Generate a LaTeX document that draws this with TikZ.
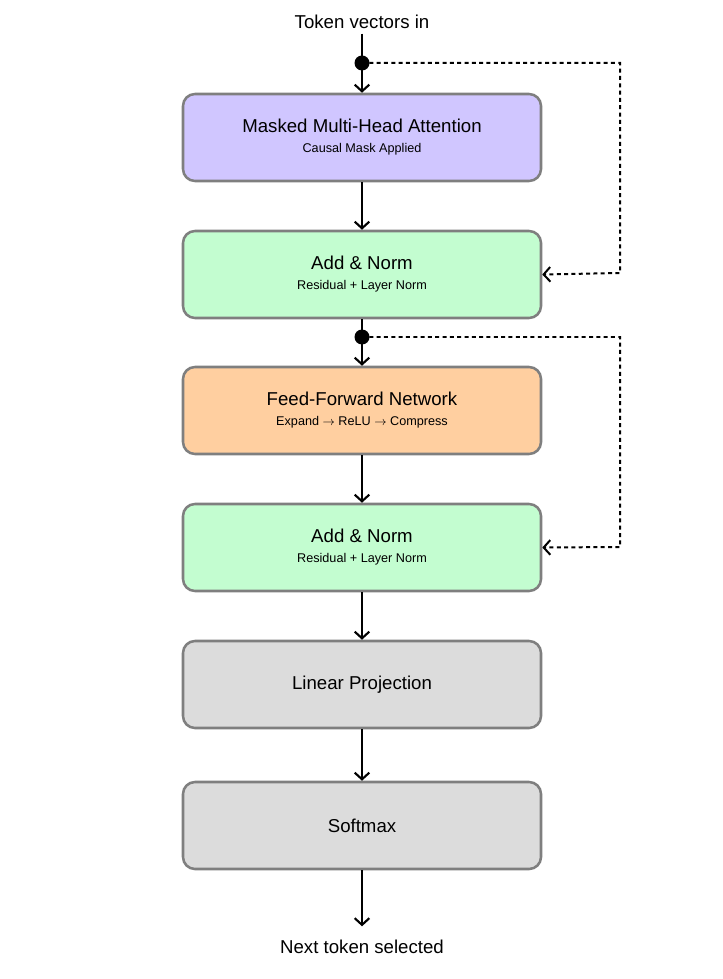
\documentclass[tikz,border=0pt]{standalone}
\usepackage{fontspec}
\setmainfont{Liberation Sans}
\usetikzlibrary{arrows.meta,positioning}

\definecolor{attnfill}{HTML}{D0C6FF}
\definecolor{normfill}{HTML}{C3FDD0}
\definecolor{ffnfill}{HTML}{FFCFA0}
\definecolor{grayfill}{HTML}{DCDCDC}
\definecolor{edgegray}{HTML}{7F7F7F}

\newcommand{\subline}[1]{{\fontsize{9.5}{11}\selectfont #1}}

\tikzset{
  blockbox/.style={draw=edgegray, line width=1.9pt, rounded corners=9pt,
    minimum width=358*0.0264cm, minimum height=87*0.0264cm, align=center, font=\fontsize{14}{16}\selectfont},
  flow/.style={line width=1.6pt, -{Straight Barb[length=5pt,width=11pt]}},
  skip/.style={line width=1.5pt, dash pattern=on 3pt off 2.5pt, -{Straight Barb[length=5pt,width=11pt]}},
}

\begin{document}
\begin{tikzpicture}[x=0.0264cm, y=-0.0264cm]
        \useasboundingbox (0, 0) rectangle (723, 979);

        \node[font=\fontsize{14}{16}\selectfont] (inlabel) at (362, 22) {Token vectors in};
        \node[blockbox, fill=attnfill] (attn) at (362, 137.5) {Masked Multi-Head Attention\\[-1pt]\subline{Causal Mask Applied}};
        \node[blockbox, fill=normfill] (norma) at (362, 274.5) {Add \& Norm\\[-1pt]\subline{Residual + Layer Norm}};
        \node[blockbox, fill=ffnfill] (ffn) at (362, 410.5) {Feed-Forward Network\\[-1pt]\subline{Expand $\rightarrow$ ReLU $\rightarrow$ Compress}};
        \node[blockbox, fill=normfill] (normb) at (362, 547.5) {Add \& Norm\\[-1pt]\subline{Residual + Layer Norm}};
        \node[blockbox, fill=grayfill] (linear) at (362, 684.5) {Linear Projection};
        \node[blockbox, fill=grayfill] (soft) at (362, 825.5) {Softmax};
        \node[font=\fontsize{14}{16}\selectfont] (outlabel) at (362, 947) {Next token selected};

        \coordinate (dota) at (362, 63);
        \coordinate (dotb) at (362, 337);

        \draw[flow] (inlabel.south) -- (attn.north);
        \draw[flow] (attn) -- (norma);
        \draw[flow] (norma) -- (ffn);
        \draw[flow] (ffn) -- (normb);
        \draw[flow] (normb) -- (linear);
        \draw[flow] (linear) -- (soft);
        \draw[flow] (soft.south) -- ++(0, 56) coordinate (outend);

        % residual skips
        \draw[skip] (dota) -| (620, 273) -- (norma.east);
        \draw[skip] (dotb) -| (620, 547) -- (normb.east);
        \fill (dota) circle (7.5);
        \fill (dotb) circle (7.5);
\end{tikzpicture}
\end{document}
